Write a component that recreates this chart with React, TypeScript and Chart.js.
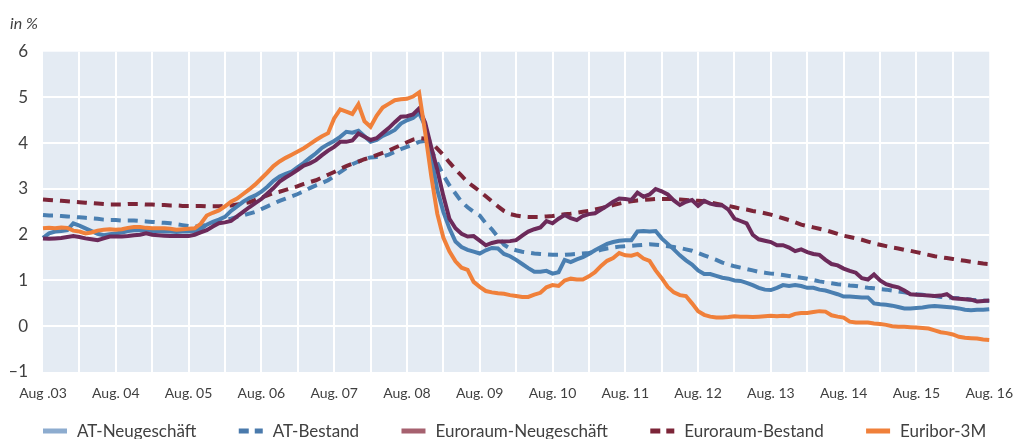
import React, { useEffect, useRef } from 'react';
import { Chart, registerables } from 'chart.js';
Chart.register(...registerables);

const MONTHS = ['Jan', 'Feb', 'Mär', 'Apr', 'Mai', 'Jun', 'Jul', 'Aug', 'Sep', 'Okt', 'Nov', 'Dez'];
// monthly categories Aug 2003 .. Aug 2016
const categories: string[] = Array.from({ length: 157 }, (_, i) => {
  const k = 7 + i;
  return `${MONTHS[k % 12]}. ${String((2003 + Math.floor(k / 12)) % 100).padStart(2, '0')}`;
});
const tickLabels = ['Aug .03', 'Aug. 04', 'Aug. 05', 'Aug. 06', 'Aug. 07', 'Aug. 08', 'Aug. 09', 'Aug. 10', 'Aug. 11', 'Aug. 12', 'Aug. 13', 'Aug. 14', 'Aug. 15', 'Aug. 16'];
const yTicks = [-1, 0, 1, 2, 3, 4, 5, 6];

const atNeugeschaeft = [
  1.93, 2.03, 2.07, 2.08, 2.10,
  2.25, 2.20, 2.14, 2.08, 2.02, 1.99, 2.01, 2.03, 2.05, 2.08, 2.10, 2.10,
  2.09, 2.08, 2.08, 2.07, 2.07, 2.06, 2.07, 2.07, 2.08, 2.12, 2.22, 2.28,
  2.33, 2.39, 2.52, 2.62, 2.72, 2.80, 2.86, 2.94, 3.05, 3.18, 3.27, 3.33,
  3.38, 3.48, 3.57, 3.68, 3.78, 3.90, 3.98, 4.05, 4.14, 4.25, 4.23, 4.27,
  4.15, 4.03, 4.07, 4.16, 4.22, 4.29, 4.43, 4.50, 4.55, 4.66, 4.38, 3.70,
  2.98, 2.50, 2.14, 1.85, 1.73, 1.67, 1.63, 1.59, 1.66, 1.71, 1.70, 1.58,
  1.53, 1.45, 1.36, 1.27, 1.19, 1.19, 1.21, 1.15, 1.18, 1.45, 1.40, 1.46,
  1.51, 1.58, 1.66, 1.73, 1.80, 1.84, 1.87, 1.88, 1.88, 2.07, 2.08, 2.07,
  2.08, 1.92, 1.80, 1.68, 1.55, 1.44, 1.35, 1.22, 1.14, 1.14, 1.10, 1.06,
  1.04, 1.00, 0.99, 0.95, 0.90, 0.84, 0.80, 0.79, 0.84, 0.90, 0.88, 0.90,
  0.88, 0.84, 0.84, 0.80, 0.78, 0.74, 0.70, 0.65, 0.65, 0.64, 0.63, 0.63,
  0.50, 0.48, 0.47, 0.45, 0.42, 0.39, 0.39, 0.40, 0.41, 0.43, 0.44, 0.43,
  0.42, 0.41, 0.39, 0.36, 0.35, 0.36, 0.36, 0.37,
];

const atBestand = [
  2.43, 2.42, 2.42, 2.41, 2.40,
  2.39, 2.38, 2.37, 2.36, 2.35, 2.33, 2.32, 2.32, 2.31, 2.31, 2.31, 2.30,
  2.29, 2.28, 2.27, 2.26, 2.25, 2.23, 2.21, 2.19, 2.18, 2.19, 2.21, 2.24,
  2.28, 2.32, 2.35, 2.39, 2.42, 2.46, 2.50, 2.56, 2.62, 2.68, 2.74, 2.79,
  2.84, 2.89, 2.95, 3.02, 3.08, 3.13, 3.19, 3.28, 3.37, 3.46, 3.54, 3.60,
  3.65, 3.69, 3.70, 3.71, 3.75, 3.81, 3.87, 3.92, 3.97, 4.03, 4.05, 3.85,
  3.57, 3.30, 3.08, 2.90, 2.72, 2.60, 2.50, 2.42, 2.25, 2.12, 1.95, 1.78,
  1.70, 1.66, 1.63, 1.61, 1.59, 1.58, 1.57, 1.56, 1.56, 1.56, 1.57, 1.58,
  1.59, 1.60, 1.63, 1.67, 1.70, 1.72, 1.74, 1.75, 1.76, 1.77, 1.78, 1.79,
  1.78, 1.77, 1.75, 1.73, 1.71, 1.68, 1.65, 1.60, 1.55, 1.50, 1.45, 1.39,
  1.35, 1.31, 1.28, 1.25, 1.22, 1.19, 1.17, 1.15, 1.14, 1.12, 1.10, 1.08,
  1.06, 1.04, 1.01, 0.98, 0.96, 0.94, 0.92, 0.91, 0.89, 0.88, 0.86, 0.84,
  0.83, 0.81, 0.80, 0.78, 0.76, 0.74, 0.72, 0.70, 0.69, 0.67, 0.66, 0.64,
  0.63, 0.62, 0.61, 0.60, 0.58, 0.57, 0.56, 0.55,
];

const euroraumNeugeschaeft = [
  1.92, 1.91, 1.92, 1.93, 1.95,
  1.97, 1.95, 1.92, 1.90, 1.88, 1.92, 1.96, 1.96, 1.96, 1.97, 1.99, 2.00,
  2.03, 2.00, 1.99, 1.98, 1.97, 1.97, 1.97, 1.97, 2.00, 2.05, 2.10, 2.18,
  2.25, 2.27, 2.30, 2.40, 2.50, 2.60, 2.69, 2.78, 2.90, 3.02, 3.16, 3.25,
  3.33, 3.42, 3.51, 3.56, 3.63, 3.74, 3.84, 3.92, 4.03, 4.03, 4.06, 4.21,
  4.14, 4.07, 4.11, 4.22, 4.33, 4.46, 4.58, 4.59, 4.63, 4.76, 4.45, 3.92,
  3.42, 2.85, 2.35, 2.14, 2.02, 1.96, 1.97, 1.87, 1.77, 1.82, 1.85, 1.85,
  1.86, 1.88, 1.98, 2.07, 2.12, 2.16, 2.30, 2.25, 2.35, 2.43, 2.36, 2.32,
  2.41, 2.45, 2.47, 2.55, 2.63, 2.72, 2.79, 2.78, 2.76, 2.92, 2.83, 2.88,
  3.00, 2.95, 2.88, 2.75, 2.65, 2.72, 2.76, 2.63, 2.74, 2.68, 2.65, 2.64,
  2.55, 2.35, 2.30, 2.25, 2.00, 1.90, 1.87, 1.84, 1.77, 1.77, 1.72, 1.64,
  1.68, 1.62, 1.58, 1.56, 1.45, 1.36, 1.33, 1.26, 1.21, 1.17, 1.05, 1.02,
  1.13, 1.00, 0.92, 0.88, 0.85, 0.78, 0.70, 0.69, 0.68, 0.67, 0.66, 0.67,
  0.70, 0.61, 0.60, 0.59, 0.58, 0.54, 0.55, 0.56,
];

const euroraumBestand = [
  2.77, 2.76, 2.75, 2.74, 2.73,
  2.72, 2.71, 2.70, 2.69, 2.68, 2.67, 2.66, 2.66, 2.66, 2.67, 2.67, 2.67,
  2.66, 2.66, 2.65, 2.65, 2.64, 2.64, 2.63, 2.63, 2.63, 2.63, 2.62, 2.62,
  2.62, 2.63, 2.64, 2.66, 2.68, 2.71, 2.76, 2.81, 2.86, 2.91, 2.94, 2.98,
  3.02, 3.06, 3.11, 3.15, 3.19, 3.25, 3.31, 3.37, 3.44, 3.50, 3.55, 3.60,
  3.65, 3.69, 3.74, 3.79, 3.84, 3.90, 3.96, 4.02, 4.08, 4.11, 4.10, 4.02,
  3.88, 3.74, 3.58, 3.43, 3.29, 3.15, 3.05, 2.95, 2.84, 2.73, 2.62, 2.52,
  2.45, 2.42, 2.40, 2.39, 2.39, 2.39, 2.40, 2.41, 2.43, 2.45, 2.46, 2.48,
  2.50, 2.52, 2.55, 2.58, 2.61, 2.65, 2.68, 2.71, 2.73, 2.75, 2.76, 2.77,
  2.78, 2.78, 2.78, 2.78, 2.77, 2.76, 2.75, 2.74, 2.73, 2.70, 2.68, 2.65,
  2.63, 2.60, 2.57, 2.55, 2.52, 2.50, 2.47, 2.44, 2.40, 2.36, 2.32, 2.27,
  2.22, 2.19, 2.16, 2.13, 2.10, 2.06, 2.02, 1.98, 1.95, 1.92, 1.89, 1.85,
  1.81, 1.78, 1.75, 1.72, 1.70, 1.67, 1.65, 1.62, 1.59, 1.56, 1.53, 1.51,
  1.49, 1.47, 1.45, 1.43, 1.41, 1.39, 1.37, 1.36,
];

const euribor3M = [
  2.14, 2.15, 2.14, 2.16, 2.15,
  2.09, 2.07, 2.03, 2.05, 2.09, 2.11, 2.12, 2.11, 2.12, 2.15, 2.17, 2.17,
  2.15, 2.14, 2.14, 2.14, 2.13, 2.11, 2.12, 2.13, 2.14, 2.24, 2.42, 2.48,
  2.53, 2.62, 2.72, 2.79, 2.89, 2.99, 3.10, 3.23, 3.36, 3.50, 3.60, 3.68,
  3.75, 3.82, 3.89, 3.98, 4.07, 4.15, 4.22, 4.54, 4.74, 4.69, 4.64, 4.85,
  4.48, 4.36, 4.60, 4.78, 4.86, 4.94, 4.96, 4.97, 5.02, 5.11, 4.24, 3.29,
  2.46, 1.94, 1.64, 1.42, 1.28, 1.23, 0.97, 0.86, 0.77, 0.74, 0.72, 0.71,
  0.68, 0.66, 0.64, 0.64, 0.69, 0.73, 0.85, 0.90, 0.88, 1.00, 1.04, 1.02,
  1.02, 1.09, 1.18, 1.32, 1.43, 1.49, 1.60, 1.55, 1.54, 1.58, 1.48, 1.43,
  1.22, 1.05, 0.86, 0.74, 0.68, 0.66, 0.50, 0.33, 0.25, 0.21, 0.19, 0.19,
  0.20, 0.22, 0.21, 0.21, 0.20, 0.21, 0.22, 0.23, 0.22, 0.23, 0.22, 0.27,
  0.29, 0.29, 0.31, 0.33, 0.32, 0.24, 0.21, 0.19, 0.10, 0.08, 0.08, 0.08,
  0.06, 0.05, 0.03, 0.00, -0.01, -0.01, -0.02, -0.03, -0.04, -0.05, -0.09, -0.13,
  -0.15, -0.18, -0.23, -0.25, -0.26, -0.27, -0.29, -0.30,
];

const BG = '#e4ebf3';
const TEXT = '#404040';
const FONT = 'Lato, "Open Sans", sans-serif';
const TRANSPARENT = 'rgba(0,0,0,0)';

const seriesStyle = [
  { label: 'AT-Neugeschäft', data: atNeugeschaeft, color: '#4a7fb1', legend: '#8daccf', dashed: false, order: 2 },
  { label: 'AT-Bestand', data: atBestand, color: '#4a7fb1', legend: '#4a7aac', dashed: true, order: 4 },
  { label: 'Euroraum-Neugeschäft', data: euroraumNeugeschaeft, color: '#6c2a5a', legend: '#a6616f', dashed: false, order: 1 },
  { label: 'Euroraum-Bestand', data: euroraumBestand, color: '#7c2538', legend: '#7c2538', dashed: true, order: 3 },
  { label: 'Euribor-3M', data: euribor3M, color: '#f0803a', legend: '#f0803a', dashed: false, order: 0 },
];

const bgPlugin = {
  id: 'plotBg',
  beforeDraw(chart: any) {
    const { ctx, chartArea: a } = chart;
    ctx.save();
    ctx.fillStyle = BG;
    ctx.fillRect(a.left, a.top, a.right - a.left, a.bottom - a.top);
    ctx.restore();
  },
};

// legend drawn in one row below the axis, spread across the plot width
const legendPlugin = {
  id: 'rowLegend',
  afterDraw(chart: any) {
    const { ctx, chartArea: a } = chart;
    const swatchW = 24;
    const swatchH = 5;
    const textGap = 10;
    ctx.save();
    ctx.font = `17px ${FONT}`;
    ctx.textBaseline = 'middle';
    ctx.textAlign = 'left';
    const items = chart.data.datasets.map((ds: any, i: number) => ({
      text: ds.label as string,
      color: seriesStyle[i].legend,
      dashed: seriesStyle[i].dashed,
      w: ctx.measureText(ds.label).width,
    }));
    const total = items.reduce((p: number, it: any) => p + swatchW + textGap + it.w, 0);
    const gap = (a.right - 3 - a.left - total) / (items.length - 1);
    const y = a.bottom + 59;
    let x = a.left;
    items.forEach((it: any) => {
      ctx.fillStyle = it.color;
      if (it.dashed) {
        ctx.fillRect(x, y - swatchH / 2, 10, swatchH);
        ctx.fillRect(x + 16, y - swatchH / 2, 8, swatchH);
      } else {
        ctx.fillRect(x, y - swatchH / 2, swatchW, swatchH);
      }
      ctx.fillStyle = TEXT;
      ctx.fillText(it.text, x + swatchW + textGap, y + 1);
      x += swatchW + textGap + it.w + gap;
    });
    ctx.restore();
  },
};

export default function App() {
  const ref = useRef<HTMLCanvasElement>(null);

  useEffect(() => {
    const chart = new Chart(ref.current!, {
      type: 'line',
      data: {
        labels: categories,
        datasets: seriesStyle.map((s) => ({
          label: s.label,
          data: s.data,
          borderColor: s.color,
          backgroundColor: s.color,
          borderWidth: 4,
          borderDash: s.dashed ? [10, 7] : [],
          pointRadius: 0,
          pointHoverRadius: 0,
          tension: 0,
          fill: false,
          order: s.order,
        })),
      },
      options: {
        animation: false,
        responsive: false,
        events: [],
        layout: { padding: { left: 10, right: 23, top: 0, bottom: 38 } },
        scales: {
          x: {
            type: 'category',
            grid: {
              color: (ctx: any) => (ctx.index % 6 === 0 && ctx.index !== 0 && ctx.index !== 156 ? '#ffffff' : TRANSPARENT),
              lineWidth: 2,
              drawTicks: false,
            },
            border: { display: false },
            ticks: {
              autoSkip: false,
              maxRotation: 0,
              minRotation: 0,
              padding: 13,
              color: TEXT,
              font: { family: FONT, size: 14 },
              callback: (_v: any, i: number) => (i % 12 === 0 ? tickLabels[i / 12] : ''),
            },
            afterFit: (s: any) => {
              s.height = 40;
            },
          },
          y: {
            min: -1,
            max: 6,
            afterBuildTicks: (s: any) => {
              s.ticks = yTicks.map((v) => ({ value: v }));
            },
            grid: {
              color: (ctx: any) => (ctx.tick && (ctx.tick.value === -1 || ctx.tick.value === 6) ? TRANSPARENT : '#ffffff'),
              lineWidth: 2,
              drawTicks: false,
            },
            border: { display: false },
            ticks: {
              padding: 15,
              color: TEXT,
              font: { family: FONT, size: 17 },
              callback: (v: any) => (Number(v) < 0 ? '–' + Math.abs(Number(v)) : String(v)),
            },
            afterFit: (s: any) => {
              s.width = 33;
            },
          },
        },
        plugins: {
          title: {
            display: true,
            text: 'in %',
            align: 'start',
            color: TEXT,
            font: { family: FONT, size: 16, style: 'italic', weight: 'normal' },
            padding: { top: 14.5, bottom: 18 },
          },
          legend: { display: false },
          tooltip: { enabled: false },
        },
      },
      plugins: [bgPlugin, legendPlugin],
    } as any);
    return () => chart.destroy();
  }, []);

  return (
    <div style={{ position: 'fixed', left: 0, top: 0, width: 1026, height: 450, overflow: 'hidden', background: '#ffffff' }}>
      <canvas ref={ref} width={1026} height={450} style={{ display: 'block' }} />
    </div>
  );
}
